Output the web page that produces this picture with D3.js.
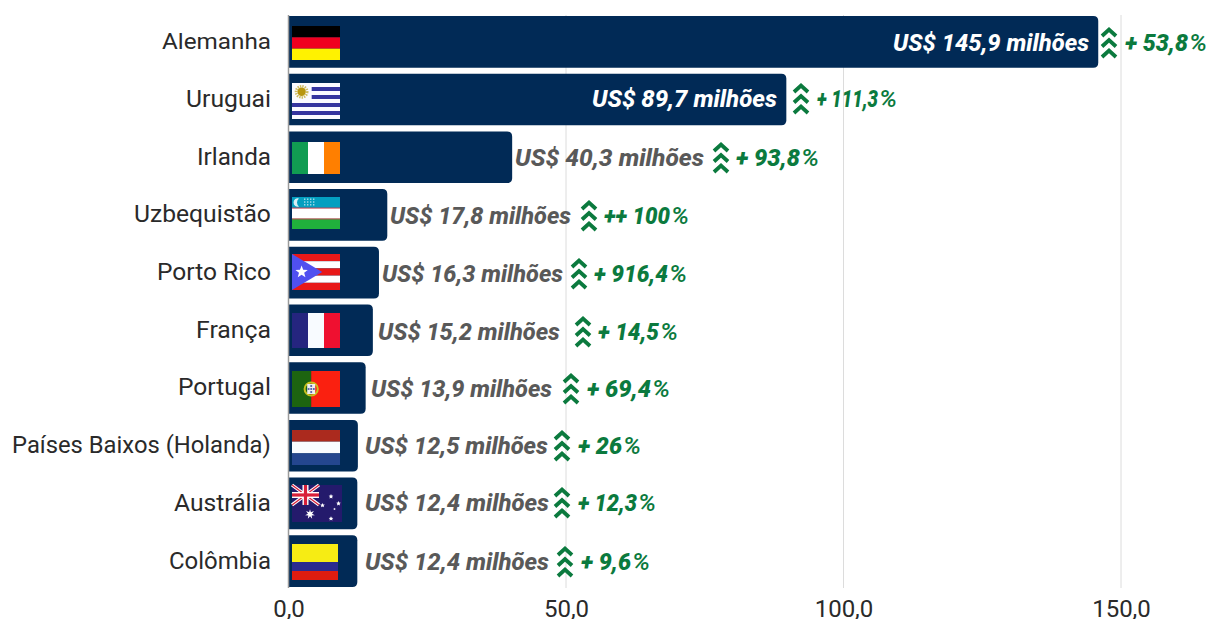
<!DOCTYPE html>
<html><head><meta charset="utf-8">
<script src="https://cdn.jsdelivr.net/npm/d3@7"></script>
<style>html,body{margin:0;padding:0;background:#fff}svg{display:block}text{font-family:Roboto,sans-serif}</style>
</head><body><div id="c"></div>
<script>
// ---- data
const categories=["Alemanha","Uruguai","Irlanda","Uzbequistão","Porto Rico","França","Portugal","Países Baixos (Holanda)","Austrália","Colômbia"];
const values=[145.9,89.7,40.3,17.8,16.3,15.2,13.9,12.5,12.4,12.4];
const changes=["+ 53,8","+ 111,3","+ 93,8","++ 100","+ 916,4","+ 14,5","+ 69,4","+ 26","+ 12,3","+ 9,6"];
const tickValues=[0,50,100,150];
const flagKeys=["de","uy","ie","uz","pr","fr","pt","nl","au","co"];
// ---- layout of hand-placed annotations (pixels), separate from the data
const valueLabelBox=[[893,1089],[592,777],[515,704],[390,571],[382,563],[378,560],[371,552],[365,548],[365,549],[365,549]];
const labelBaseline=[51,107,166,224,282,340,397,454,511,570];
const arrowCx=[1109,801,721,589,579,583,571,562,562,565];
const pctBox=[[1125,1207],[817,897],[736,819],[604,689],[594,687],[598,678],[587,670],[578,641],[578,656],[581,650]];
const flagBox=[[292,26,48,34],[292,83,48,36],[292,142,48,32],[292,197,48,32],[292,254,48,36],[292,313,48,35],[292,371,48,36],[292,430,48,35],[292,485,50,37],[292,544,46,36]];
const catRight=271;
const catWidth=[109,85,74,137,114,75,93,259,97,102];

const W=1211,H=619;
const svg=d3.select("#c").append("svg").attr("width",W).attr("height",H);
const x=d3.scaleLinear().domain([0,150]).range([288.5,1121]);
const y=d3.scaleBand().domain(categories).range([13.1,589.8]).paddingInner(0.105).paddingOuter(0.05);
const loc=d3.formatLocale({decimal:",",thousands:".",grouping:[3],currency:["R$",""]});
const f1=loc.format(".1f");

// squeeze a text horizontally to a target box (the reference font is narrower than Roboto)
function fit(sel,leftFn,baseFn,widthFn){
 sel.attr("transform",function(d,i){
   const sx=widthFn(d,i)/this.getComputedTextLength();
   return `translate(${leftFn(d,i)},${baseFn(d,i)}) scale(${sx},1)`;});
}

// grid
svg.append("g").selectAll("line").data(tickValues.slice(1)).join("line")
 .attr("x1",d=>x(d)).attr("x2",d=>x(d)).attr("y1",15).attr("y2",588).attr("stroke","#dcdcdc").attr("stroke-width",1);

// bars: rounded right corners only
const NAVY="#012a56";
svg.append("g").selectAll("path").data(values).join("path")
 .attr("d",(d,i)=>{const x0=x(0),x1=x(d),t=y(categories[i]),b=t+y.bandwidth(),r=5;
   return `M${x0},${t}H${x1-r}Q${x1},${t} ${x1},${t+r}V${b-r}Q${x1},${b} ${x1-r},${b}H${x0}Z`;})
 .attr("fill",NAVY);

// zero axis line
svg.append("line").attr("x1",x(0)).attr("x2",x(0)).attr("y1",15).attr("y2",588).attr("stroke","#9a9a9a").attr("stroke-width",1.5);

// x axis
const ax=svg.append("g").attr("transform","translate(0,617)")
 .call(d3.axisBottom(x).tickValues(tickValues).tickFormat(f1).tickSize(0).tickPadding(0));
ax.select(".domain").remove();
ax.selectAll("text").attr("dy",0).attr("y",0).attr("fill","#2a2a2a").style("font-size","24px").style("font-family","Roboto").attr("font-weight",400);

// category labels
svg.append("g").selectAll("text").data(categories).join("text")
 .attr("fill","#2a2a2a").style("font-size","23px").text(d=>d)
 .call(fit,(d,i)=>catRight-catWidth[i],(d,i)=>y(d)+y.bandwidth()/2+7.5,(d,i)=>catWidth[i]);

// value labels
svg.append("g").selectAll("text").data(values).join("text")
 .attr("fill",(d,i)=>i<2?"#fff":"#595959")
 .style("font-size","24px").style("font-weight",800).style("font-style","italic")
 .text(d=>`US$ ${f1(d)} milhões`)
 .call(fit,(d,i)=>valueLabelBox[i][0],(d,i)=>labelBaseline[i],(d,i)=>valueLabelBox[i][1]-valueLabelBox[i][0]);

// change labels: number and percent sign (lighter in the reference)
const GREEN="#0b7a3e", PW=18;
svg.append("g").selectAll("text").data(changes).join("text")
 .attr("fill",GREEN)
 .style("font-size","24px").style("font-weight",900).style("font-style","italic")
 .text(d=>d)
 .call(fit,(d,i)=>pctBox[i][0],(d,i)=>labelBaseline[i],(d,i)=>pctBox[i][1]-pctBox[i][0]-PW-1);
svg.append("g").selectAll("text").data(changes).join("text")
 .attr("fill",GREEN)
 .style("font-size","24px").style("font-weight",500).style("font-style","italic")
 .text("%")
 .call(fit,(d,i)=>pctBox[i][1]-PW,(d,i)=>labelBaseline[i],()=>PW);

// triple chevrons
const arrows=svg.append("g").selectAll("g").data(changes).join("g")
 .attr("transform",(d,i)=>`translate(${arrowCx[i]},${labelBaseline[i]-24})`);
[0,10.5,21].forEach(o=>arrows.append("path").attr("d",`M-7,${o+9}L0,${o+2.5}L7,${o+9}`)
 .attr("fill","none").attr("stroke",GREEN).attr("stroke-width",3.8));

// flags
function rect(g,X,Y,w,h,c){g.append("rect").attr("x",X).attr("y",Y).attr("width",w).attr("height",h).attr("fill",c);}
function star(g,cx,cy,R,n,c,r0){const p=[];const r=r0||R*0.42;for(let k=0;k<n*2;k++){const a=-Math.PI/2+k*Math.PI/n,q=k%2?r:R;p.push([cx+q*Math.cos(a),cy+q*Math.sin(a)]);}
 g.append("polygon").attr("points",p.join(" ")).attr("fill",c);}
const draw={
 de(g,w,h){rect(g,0,0,w,h/3,"#000");rect(g,0,h/3,w,h/3,"#f0001f");rect(g,0,2*h/3,w,h/3,"#fff200");},
 ie(g,w,h){rect(g,0,0,w/3,h,"#119c52");rect(g,w/3,0,w/3,h,"#fff");rect(g,2*w/3,0,w/3,h,"#ff7f00");},
 fr(g,w,h){rect(g,0,0,w/3,h,"#25257f");rect(g,w/3,0,w/3,h,"#f8fbff");rect(g,2*w/3,0,w/3,h,"#ef1030");},
 nl(g,w,h){rect(g,0,0,w,h/3,"#ab2a1e");rect(g,0,h/3,w,h/3,"#f8fbff");rect(g,0,2*h/3,w,h/3,"#24468f");},
 co(g,w,h){rect(g,0,0,w,h/2,"#f6ec14");rect(g,0,h/2,w,h/4,"#2a2a8f");rect(g,0,3*h/4,w,h/4,"#de1c10");},
 pt(g,w,h){rect(g,0,0,w*0.4,h,"#1d6410");rect(g,w*0.4,0,w*0.6,h,"#fa2010");
   g.append("circle").attr("cx",w*0.4).attr("cy",h/2).attr("r",6.6).attr("fill","none").attr("stroke","#c8c020").attr("stroke-width",2);
   rect(g,w*0.4-4,h/2-5,8,10,"#eeeeee");
   [[0,-3],[0,0],[0,3],[-2.6,0],[2.6,0]].forEach(p=>rect(g,w*0.4+p[0]-.9,h/2+p[1]-.9,1.8,1.8,"#4a5aa8"));},
 uy(g,w,h){rect(g,0,0,w,h,"#fafaff");
   const s=h/9;[1,3,5,7].forEach(k=>{const left=k<4?w*0.41:0;rect(g,left,k*s,w-left,s,"#34349f");});
   g.append("circle").attr("cx",w*0.2).attr("cy",s*2.2).attr("r",5.6).attr("fill","none").attr("stroke","#cdbb60").attr("stroke-width",2.6).attr("stroke-dasharray","1.4 1");
   g.append("circle").attr("cx",w*0.2).attr("cy",s*2.2).attr("r",4.2).attr("fill","#b8960f");},
 uz(g,w,h){rect(g,0,0,w,h*0.345,"#049fc0");rect(g,0,h*0.345,w,h*0.345,"#fff");rect(g,0,h*0.68,w,h*0.32,"#20b03c");
   rect(g,0,h*0.33,w,1,"#c04050");rect(g,0,h*0.67,w,1,"#c04050");
   g.append("path").attr("d","M7,1.5A4.2,4.2 0 1 0 7,9.5A5,5 0 0 1 7,1.5Z").attr("fill","#d8eef4");
   for(let a=0;a<3;a++)for(let b=0;b<4;b++)rect(g,12+b*3,1.5+a*2.8,1.4,1.4,"#a8dcea");},
 pr(g,w,h){const s=h/5;for(let k=0;k<5;k++)rect(g,0,k*s,w,s,k%2?"#fff":"#e81818");
   g.append("polygon").attr("points",`0,0 ${w*0.63},${h/2} 0,${h}`).attr("fill","#5050f0");
   star(g,w*0.2,h/2,6.5,5,"#fff");},
 au(g,w,h){rect(g,0,0,w,h,"#241a6c");const uw=w*0.54,uh=h*0.54;
   const u=g.append("g");rect(u,0,0,uw,uh,"#241a6c");
   [[0,0,uw,uh],[uw,0,0,uh]].forEach(l=>{u.append("line").attr("x1",l[0]).attr("y1",l[1]).attr("x2",l[2]).attr("y2",l[3]).attr("stroke","#fff").attr("stroke-width",3.4);
     u.append("line").attr("x1",l[0]).attr("y1",l[1]).attr("x2",l[2]).attr("y2",l[3]).attr("stroke","#d8203a").attr("stroke-width",1.3);});
   rect(u,uw/2-3,0,6,uh,"#fff");rect(u,0,uh/2-3,uw,6,"#fff");rect(u,uw/2-1.6,0,3.2,uh,"#d8203a");rect(u,0,uh/2-1.6,uw,3.2,"#d8203a");
   star(g,w*0.36,h*0.79,5,7,"#fff");
   [[.78,.31],[.61,.55],[.93,.5],[.78,.91]].forEach(p=>star(g,w*p[0],h*p[1],2.4,5,"#fff",1.2));
   star(g,w*0.85,h*0.65,1.3,5,"#fff",.7);}
};
flagKeys.forEach((k,i)=>{const b=flagBox[i];const g=svg.append("g").attr("transform",`translate(${b[0]},${b[1]})`);draw[k](g,b[2],b[3]);});
</script></body></html>
